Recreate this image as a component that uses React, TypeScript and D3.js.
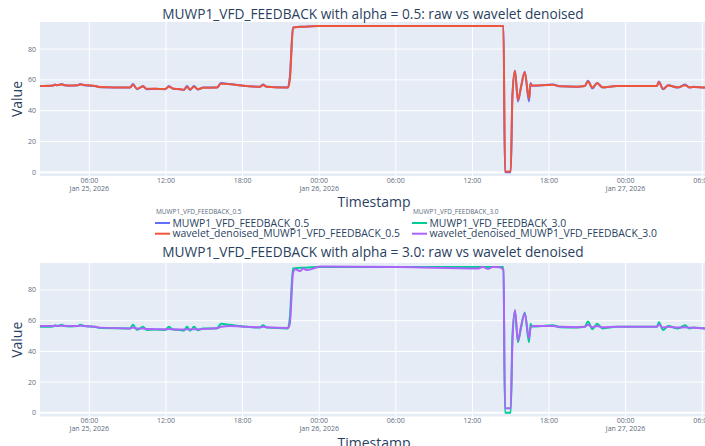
import { useRef, useEffect } from "react";
import * as d3 from "d3";

const timestamps = [
  "2026-01-25 02:08", "2026-01-25 03:10", "2026-01-25 03:18", "2026-01-25 03:28",
  "2026-01-25 03:52", "2026-01-25 04:00", "2026-01-25 04:30", "2026-01-25 05:06",
  "2026-01-25 05:16", "2026-01-25 05:36", "2026-01-25 06:27", "2026-01-25 06:50",
  "2026-01-25 09:11", "2026-01-25 09:25", "2026-01-25 09:44", "2026-01-25 09:58",
  "2026-01-25 10:12", "2026-01-25 10:30", "2026-01-25 11:08", "2026-01-25 11:56",
  "2026-01-25 12:14", "2026-01-25 12:33", "2026-01-25 13:06", "2026-01-25 13:24",
  "2026-01-25 13:39", "2026-01-25 13:53", "2026-01-25 14:12", "2026-01-25 14:30",
  "2026-01-25 14:54", "2026-01-25 16:00", "2026-01-25 16:18", "2026-01-25 17:00",
  "2026-01-25 18:21", "2026-01-25 19:21", "2026-01-25 19:36", "2026-01-25 19:54",
  "2026-01-25 21:33", "2026-01-25 21:42", "2026-01-25 21:57", "2026-01-25 22:06",
  "2026-01-25 22:30", "2026-01-25 22:44", "2026-01-25 23:03", "2026-01-25 23:54",
  "2026-01-26 00:04", "2026-01-26 06:18", "2026-01-26 12:24", "2026-01-26 12:49",
  "2026-01-26 13:13", "2026-01-26 13:36", "2026-01-26 14:09", "2026-01-26 14:26",
  "2026-01-26 14:33", "2026-01-26 15:00", "2026-01-26 15:08", "2026-01-26 15:20",
  "2026-01-26 15:34", "2026-01-26 15:48", "2026-01-26 16:06", "2026-01-26 16:26",
  "2026-01-26 16:33", "2026-01-26 16:40", "2026-01-26 18:18", "2026-01-26 18:52",
  "2026-01-26 20:11", "2026-01-26 20:48", "2026-01-26 21:03", "2026-01-26 21:24",
  "2026-01-26 21:46", "2026-01-26 22:12", "2026-01-26 23:18", "2026-01-27 02:27",
  "2026-01-27 02:36", "2026-01-27 02:56", "2026-01-27 03:20", "2026-01-27 04:06",
  "2026-01-27 04:39", "2026-01-27 05:00", "2026-01-27 05:18", "2026-01-27 06:15",
  "2026-01-27 07:00",
];

const rawFeedback = [
  56, 56.3, 57, 56.5, 57.3, 56.5, 56.2, 56.5, 57.3, 56.5, 56, 55.3,
  55, 57.3, 54, 55, 56, 54, 54.2, 54, 56, 54.3, 54, 53.5,
  56, 53.5, 56, 53.8, 55, 55, 58, 57.3, 56, 55.5, 57, 55.5,
  55, 62, 94, 94.2, 94.5, 94.5, 94.6, 95, 95, 95, 95, 95,
  95, 95, 95, 95, 0, 0, 50, 66, 46, 55, 65.3, 46, 58, 56.2,
  57, 55.8, 55.5, 56, 59.5, 54.5, 58, 55, 56, 56, 59, 54,
  56.5, 55, 57, 55, 55.5, 55, 55,
];

const denoisedAlpha05 = [
  56, 56.3, 56.8, 56.6, 57, 56.7, 56.3, 56.5, 57, 56.7, 56, 55.4,
  55, 56.8, 54.3, 55, 55.7, 54.2, 54.2, 54.1, 55.6, 54.4, 54, 53.6,
  55.6, 53.8, 55.6, 54, 54.9, 55, 57.5, 57.2, 56, 55.5, 56.7, 55.6,
  55, 60, 93.5, 94.2, 94.5, 94.5, 94.6, 95, 95, 95, 95, 95,
  95, 95, 95, 95, 0.5, 0.5, 49, 66, 47, 55, 65, 48, 57.5, 56.3,
  56.8, 55.8, 55.5, 56, 59, 55, 57.8, 55.2, 56, 56, 58.7, 54.3,
  56.3, 55.2, 56.5, 55.2, 55.4, 55, 55,
];

const denoisedAlpha30 = [
  56.5, 56.5, 56.7, 56.7, 56.8, 56.7, 56.5, 56.5, 56.8, 56.6, 56, 55.5,
  55, 55.6, 54.9, 54.8, 54.9, 54.6, 54.5, 54.4, 54.6, 54.4, 54.3, 54.2,
  54.5, 54.3, 54.5, 54.4, 54.6, 55.2, 56, 56.5, 56, 55.7, 56, 55.7,
  55.2, 58, 91, 93.5, 92.3, 94, 93, 95, 95.3, 95, 94, 95,
  93.7, 95, 94.8, 93, 3, 3, 45, 67, 47, 56, 64.7, 48.5, 55, 56.5,
  56.5, 56, 55.7, 56, 57.3, 55.8, 56.5, 55.7, 56, 56, 57.5, 55.5,
  56, 55.5, 55.8, 55.5, 55.4, 55, 55,
];

const yTicks = [0, 20, 40, 60, 80];

export default function App() {
  const ref = useRef<SVGSVGElement>(null);

  useEffect(() => {
    const svg = d3.select(ref.current);
    svg.selectAll("*").remove();

    const font = '"Open Sans", verdana, arial, sans-serif';
    const ink = "#2a3f5f";
    const tickInk = "#5d6b80";
    const parse = d3.utcParse("%Y-%m-%d %H:%M");
    const dates = timestamps.map((s) => parse(s) as Date);

    const left = 40;
    const right = 715;
    const x = d3
      .scaleUtc()
      .domain([dates[0], dates[dates.length - 1]])
      .range([left, right]);
    const xTicks = x.ticks(d3.utcHour.every(6) as any);

    const panels = [
      {
        title: "MUWP1_VFD_FEEDBACK with alpha = 0.5: raw vs wavelet denoised",
        top: 22,
        bottom: 176,
        titleY: 19,
        xTitleY: 207,
        series: [
          { values: rawFeedback, color: "#636efa" },
          { values: denoisedAlpha05, color: "#EF553B" },
        ],
      },
      {
        title: "MUWP1_VFD_FEEDBACK with alpha = 3.0: raw vs wavelet denoised",
        top: 263,
        bottom: 416.5,
        titleY: 257,
        xTitleY: 448,
        series: [
          { values: rawFeedback, color: "#00cc96" },
          { values: denoisedAlpha30, color: "#ab63fa" },
        ],
      },
    ];

    panels.forEach((p, pi) => {
      const y = d3.scaleLinear().domain([-2.4, 97.6]).range([p.bottom, p.top]);
      const g = svg.append("g");

      g.append("rect")
        .attr("x", left)
        .attr("y", p.top)
        .attr("width", right - left)
        .attr("height", p.bottom - p.top)
        .attr("fill", "#e5ecf6");

      // grid
      g.selectAll(".vg")
        .data(xTicks)
        .enter()
        .append("line")
        .attr("x1", (d) => x(d))
        .attr("x2", (d) => x(d))
        .attr("y1", p.top)
        .attr("y2", p.bottom)
        .attr("stroke", "#fff")
        .attr("stroke-width", 1);
      g.selectAll(".hg")
        .data(yTicks)
        .enter()
        .append("line")
        .attr("x1", left)
        .attr("x2", right)
        .attr("y1", (d) => y(d))
        .attr("y2", (d) => y(d))
        .attr("stroke", "#fff")
        .attr("stroke-width", (d) => (d === 0 ? 2 : 1));

      // lines
      const clipId = "clip" + pi;
      g.append("clipPath")
        .attr("id", clipId)
        .append("rect")
        .attr("x", left)
        .attr("y", p.top)
        .attr("width", right - left)
        .attr("height", p.bottom - p.top);

      const line = d3
        .line<number>()
        .x((d, i) => x(dates[i]))
        .y((d) => y(d))
        .curve(d3.curveMonotoneX);

      p.series.forEach((s) => {
        g.append("path")
          .attr("clip-path", `url(#${clipId})`)
          .attr("d", line(s.values))
          .attr("fill", "none")
          .attr("stroke", s.color)
          .attr("stroke-width", 2)
          .attr("stroke-linejoin", "round");
      });

      // y tick labels
      g.selectAll(".yt")
        .data(yTicks)
        .enter()
        .append("text")
        .attr("x", 36)
        .attr("y", (d) => y(d))
        .attr("dy", "0.35em")
        .attr("text-anchor", "end")
        .attr("font-family", font)
        .attr("font-size", 7)
        .attr("fill", tickInk)
        .text((d) => d);

      // x tick labels
      const fmtTime = d3.utcFormat("%H:%M");
      const fmtDay = d3.utcFormat("%b %-d, %Y");
      xTicks.forEach((t, i) => {
        const tx = g
          .append("text")
          .attr("x", x(t))
          .attr("y", p.bottom + 6.5)
          .attr("text-anchor", "middle")
          .attr("font-family", font)
          .attr("font-size", 7)
          .attr("fill", tickInk);
        tx.append("tspan").attr("x", x(t)).text(fmtTime(t));
        if (i === 0 || t.getUTCHours() === 0) {
          tx.append("tspan").attr("x", x(t)).attr("dy", 8).text(fmtDay(t));
        }
      });

      // titles
      g.append("text")
        .attr("x", 373)
        .attr("y", p.titleY)
        .attr("text-anchor", "middle")
        .attr("font-family", font)
        .attr("font-size", 13.7)
        .attr("fill", ink)
        .text(p.title);

      g.append("text")
        .attr("transform", `translate(22,${(p.top + p.bottom) / 2}) rotate(-90)`)
        .attr("text-anchor", "middle")
        .attr("font-family", font)
        .attr("font-size", 14)
        .attr("fill", ink)
        .text("Value");

      g.append("text")
        .attr("x", 374)
        .attr("y", p.xTitleY)
        .attr("text-anchor", "middle")
        .attr("font-family", font)
        .attr("font-size", 14)
        .attr("fill", ink)
        .text("Timestamp");
    });

    // legend
    const groups = [
      {
        title: "MUWP1_VFD_FEEDBACK_0.5",
        x: 155,
        items: [
          { name: "MUWP1_VFD_FEEDBACK_0.5", color: "#636efa" },
          { name: "wavelet_denoised_MUWP1_VFD_FEEDBACK_0.5", color: "#EF553B" },
        ],
      },
      {
        title: "MUWP1_VFD_FEEDBACK_3.0",
        x: 412,
        items: [
          { name: "MUWP1_VFD_FEEDBACK_3.0", color: "#00cc96" },
          { name: "wavelet_denoised_MUWP1_VFD_FEEDBACK_3.0", color: "#ab63fa" },
        ],
      },
    ];
    const lg = svg.append("g");
    groups.forEach((gr) => {
      lg.append("text")
        .attr("x", gr.x + 1)
        .attr("y", 214)
        .attr("font-family", font)
        .attr("font-size", 6.5)
        .attr("fill", tickInk)
        .text(gr.title);
      gr.items.forEach((it, i) => {
        const cy = 223 + i * 10.7;
        lg.append("line")
          .attr("x1", gr.x)
          .attr("x2", gr.x + 15)
          .attr("y1", cy)
          .attr("y2", cy)
          .attr("stroke", it.color)
          .attr("stroke-width", 2);
        lg.append("text")
          .attr("x", gr.x + 17.5)
          .attr("y", cy)
          .attr("dy", "0.35em")
          .attr("font-family", font)
          .attr("font-size", 10.4)
          .attr("fill", ink)
          .text(it.name);
      });
    });
  }, []);

  return (
    <svg
      ref={ref}
      width={705}
      height={446}
      style={{ position: "absolute", left: 0, top: 0, background: "#fff" }}
    />
  );
}
